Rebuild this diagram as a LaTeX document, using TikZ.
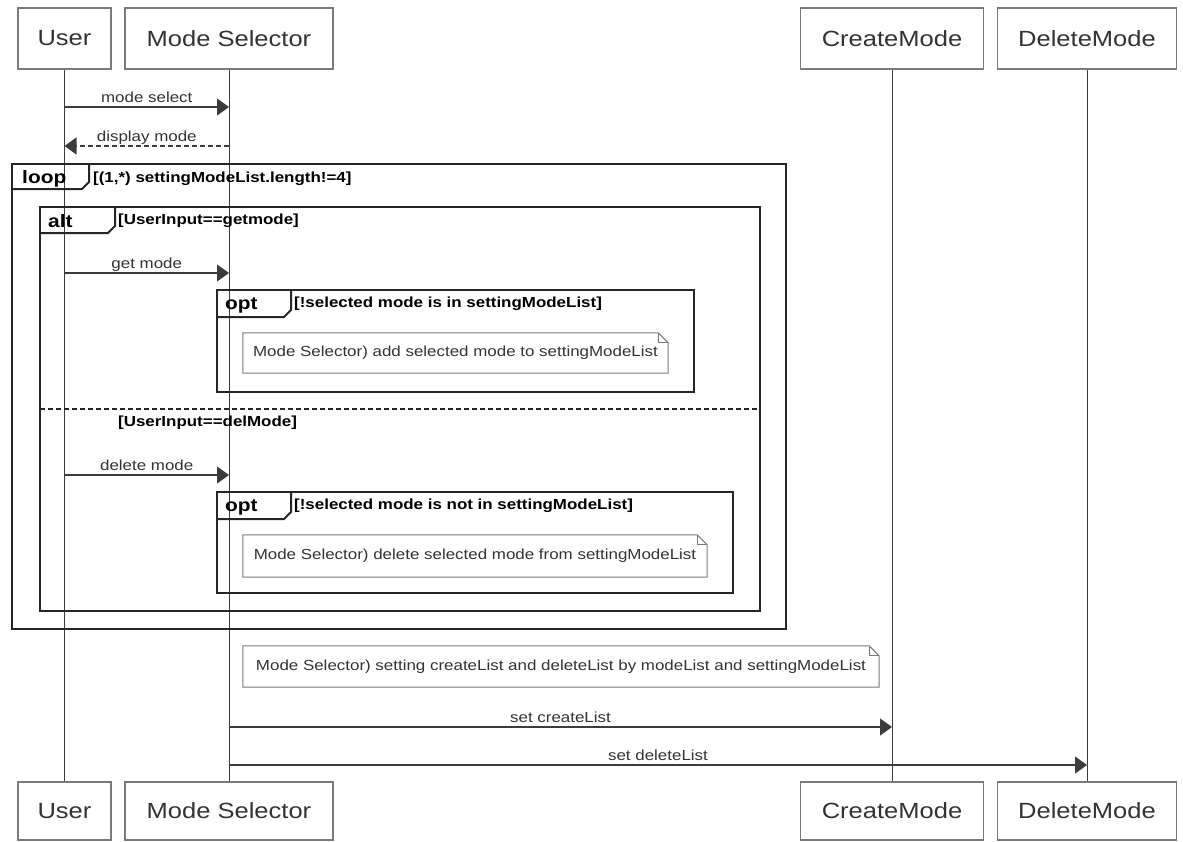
\documentclass[tikz,border=0pt]{standalone}
\usepackage{fontspec}
\setmainfont{Liberation Sans}[FakeStretch=1.16]
\usetikzlibrary{arrows.meta}

\definecolor{boxgray}{HTML}{7A7A7A}
\definecolor{linegray}{HTML}{3C3C3C}
\definecolor{textgray}{HTML}{333333}

\tikzset{
  part/.style={draw=boxgray, line width=1.2pt, inner sep=0pt, minimum height=61pt,
    font=\fontsize{22}{26}\selectfont, text=textgray},
  life/.style={draw=linegray, line width=1pt},
  msg/.style={draw=linegray, line width=1.2pt, -{Triangle[length=12pt,width=17pt]}},
  reply/.style={msg, dash pattern=on 5pt off 3pt},
  lbl/.style={font=\fontsize{14.6}{17}\selectfont, text=textgray, anchor=base, yshift=5pt},
  frame/.style={draw=black!85, line width=2pt},
  kw/.style={font=\bfseries\fontsize{18}{21}\selectfont, anchor=base west, inner sep=0pt},
  guard/.style={font=\bfseries\fontsize{14.6}{17}\selectfont, anchor=base west, inner sep=0pt},
  note/.style={inner sep=0pt, font=\fontsize{14.6}{17}\selectfont, text=textgray},
  noteline/.style={draw=boxgray, line width=1pt}
}

% outline of a note with a folded corner
\newcommand{\drawnote}[1]{%
  \draw[noteline] (#1.north west) -- ([xshift=-10pt]#1.north east) -- ([yshift=-10pt]#1.north east)
    -- (#1.south east) -- (#1.south west) -- cycle;
  \draw[noteline] ([xshift=-10pt]#1.north east) -- ([xshift=-10pt,yshift=-10pt]#1.north east)
    -- ([yshift=-10pt]#1.north east);}

\begin{document}
\begin{tikzpicture}[x=1pt,y=-1pt]
\useasboundingbox (0,0) rectangle (1183,841);
% Participants at the top
\node[part, minimum width=93pt] (user) at (64.5,38.5) {User};
\node[part, minimum width=208pt] (sel) at (229,38.5) {Mode Selector};
\node[part, minimum width=183pt] (create) at (892,38.5) {CreateMode};
\node[part, minimum width=179pt] (delete) at (1087,38.5) {DeleteMode};
% Participants at the bottom
\node[part, minimum width=93pt, minimum height=58pt] (userB) at (64.5,811) {User};
\node[part, minimum width=208pt, minimum height=58pt] (selB) at (229,811) {Mode Selector};
\node[part, minimum width=183pt, minimum height=58pt] (createB) at (892,811) {CreateMode};
\node[part, minimum width=179pt, minimum height=58pt] (deleteB) at (1087,811) {DeleteMode};
% Lifelines
\draw[life] (user) -- (userB);
\draw[life] (sel) -- (selB);
\draw[life] (create) -- (createB);
\draw[life] (delete) -- (deleteB);
% Message end points on the lifelines
\coordinate (u1) at (64.5,107);
\coordinate (s1) at (229,107);
\coordinate (u2) at (64.5,146);
\coordinate (s2) at (229,146);
\coordinate (u3) at (64.5,273);
\coordinate (s3) at (229,273);
\coordinate (u4) at (64.5,475);
\coordinate (s4) at (229,475);
\coordinate (s5) at (229,727);
\coordinate (c5) at (892,727);
\coordinate (s6) at (229,765);
\coordinate (d6) at (1087,765);
% Messages
\draw[msg] (u1) -- node[lbl] {mode select} (s1);
\draw[reply] (s2) -- node[lbl] {display mode} (u2);
\draw[msg] (u3) -- node[lbl] {get mode} (s3);
\draw[msg] (u4) -- node[lbl] {delete mode} (s4);
\draw[msg] (s5) -- node[lbl] {set createList} (c5);
\draw[msg] (s6) -- node[lbl] {set deleteList} (d6);
% loop frame
\draw[frame] (12,164) rectangle (786,629);
\draw[frame] (12,189) -- (82,189) -- (89,182) -- (89,164);
\node[kw] (loopkw) at (22,183) {loop};
\node[guard] (loopg) at (93,182) {[(1,*) settingModeList.length!=4]};
% alt frame with its two parts
\draw[frame] (40,207) rectangle (760,611);
\draw[frame] (40,233) -- (108,233) -- (115,226) -- (115,207);
\node[kw] (altkw) at (48,227) {alt};
\node[guard] (altg1) at (118,224) {[UserInput==getmode]};
\draw[frame, line width=1.5pt, dash pattern=on 5pt off 3pt] (40,409) -- (760,409);
\node[guard] (altg2) at (118,426) {[UserInput==delMode]};
% first opt frame
\draw[frame] (217,290) rectangle (694,392);
\draw[frame] (217,317) -- (284,317) -- (291,310) -- (291,290);
\node[kw] (optkw1) at (225,309) {opt};
\node[guard] (optg1) at (294,307) {[!selected mode is in settingModeList]};
% second opt frame
\draw[frame] (217,492) rectangle (733,593);
\draw[frame] (217,519) -- (284,519) -- (291,512) -- (291,492);
\node[kw] (optkw2) at (225,511) {opt};
\node[guard] (optg2) at (294,509) {[!selected mode is not in settingModeList]};
% Notes
\node[note, minimum width=425pt, minimum height=40pt] (n1) at (455.5,353)
  {Mode Selector) add selected mode to settingModeList};
\drawnote{n1}
\node[note, minimum width=464pt, minimum height=42pt] (n2) at (475,556)
  {Mode Selector) delete selected mode from settingModeList};
\drawnote{n2}
\node[note, minimum width=636pt, minimum height=41pt] (n3) at (561,666.5)
  {Mode Selector) setting createList and deleteList by modeList and settingModeList};
\drawnote{n3}
\end{tikzpicture}
\end{document}
